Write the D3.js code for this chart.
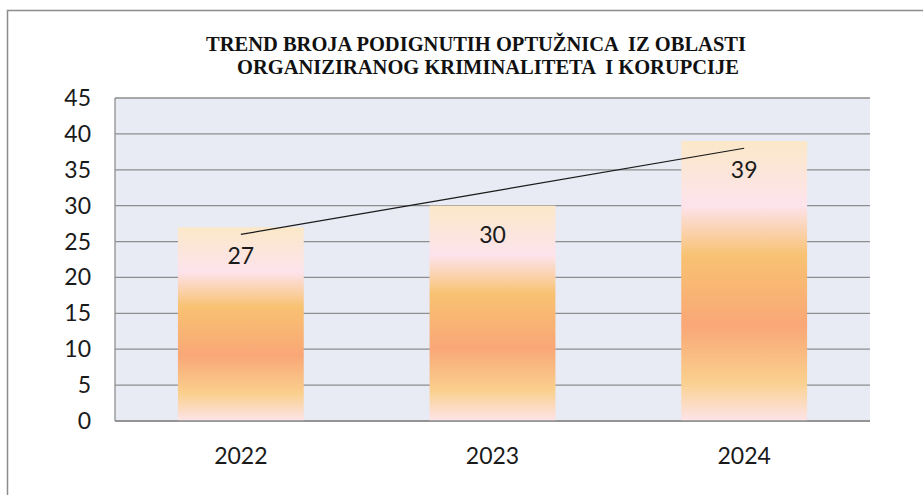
<!DOCTYPE html>
<html>
<head>
<meta charset="utf-8">
<script src="https://cdn.jsdelivr.net/npm/d3@7"></script>
<style>
  body { margin: 0; background: #fff; }
</style>
</head>
<body>
<div id="chart"></div>
<script>
  const width = 923;
  const height = 495;
  const margin = { top: 98, bottom: 74, left: 115, right: 53 };

  // data
  const years = ['2022', '2023', '2024'];
  const indictments = [27, 30, 39];
  const yTicks = [0, 5, 10, 15, 20, 25, 30, 35, 40, 45];
  const titleLines = ['TREND BROJA PODIGNUTIH OPTUŽNICA  IZ OBLASTI', 'ORGANIZIRANOG KRIMINALITETA  I KORUPCIJE'];

  const data = years.map((y, i) => ({ year: y, value: indictments[i] }));

  const svg = d3.select('#chart')
    .append('svg')
    .attr('width', width)
    .attr('height', height);

  // bar gradient
  const grad = svg.append('defs').append('linearGradient')
    .attr('id', 'barFill')
    .attr('x1', 0).attr('y1', 0).attr('x2', 0).attr('y2', 1);
  [[0, '#fbe8c8'], [0.23, '#fde3ec'], [0.41, '#f8c272'], [0.66, '#f9a776'], [0.86, '#fad08e'], [1, '#fde4ea']]
    .forEach(([o, c]) => grad.append('stop').attr('offset', o).attr('stop-color', c));

  // outer frame
  svg.append('rect')
    .attr('x', 7.5).attr('y', 10.5)
    .attr('width', 940).attr('height', 520)
    .attr('fill', 'none')
    .attr('stroke', '#8c8c8c')
    .attr('stroke-width', 1.5);

  const x = d3.scaleBand()
    .domain(years)
    .range([margin.left, width - margin.right])
    .paddingInner(0.5)
    .paddingOuter(0.25);

  const y = d3.scaleLinear()
    .domain([0, 45])
    .range([height - margin.bottom, margin.top]);

  // plot background
  svg.append('rect')
    .attr('x', margin.left)
    .attr('y', margin.top)
    .attr('width', width - margin.left - margin.right)
    .attr('height', y(0) - y(45))
    .attr('fill', '#e8eaf4');

  // grid lines
  svg.append('g')
    .selectAll('line')
    .data(yTicks)
    .join('line')
    .attr('x1', margin.left)
    .attr('x2', width - margin.right)
    .attr('y1', d => y(d))
    .attr('y2', d => y(d))
    .attr('stroke', '#8e8e8e')
    .attr('stroke-width', 1.3);

  // left axis line
  svg.append('line')
    .attr('x1', margin.left).attr('x2', margin.left)
    .attr('y1', y(45)).attr('y2', y(0))
    .attr('stroke', '#8e8e8e')
    .attr('stroke-width', 1.3);

  // bars
  svg.append('g')
    .selectAll('rect')
    .data(data)
    .join('rect')
    .attr('x', d => x(d.year))
    .attr('y', d => y(d.value))
    .attr('width', x.bandwidth())
    .attr('height', d => y(0) - y(d.value))
    .attr('fill', 'url(#barFill)');

  // baseline over bars
  svg.append('line')
    .attr('x1', margin.left).attr('x2', width - margin.right)
    .attr('y1', y(0)).attr('y2', y(0))
    .attr('stroke', '#8e8e8e')
    .attr('stroke-width', 1.5);

  // linear trend line (least squares)
  const xs = data.map((d, i) => i + 1);
  const mx = d3.mean(xs);
  const my = d3.mean(indictments);
  const slope = d3.sum(xs, (v, i) => (v - mx) * (indictments[i] - my)) / d3.sum(xs, v => (v - mx) ** 2);
  const trend = v => my + slope * (v - mx);

  svg.append('path')
    .datum(data)
    .attr('fill', 'none')
    .attr('stroke', '#1a1a1a')
    .attr('stroke-width', 1.2)
    .attr('d', d3.line()
      .x(d => x(d.year) + x.bandwidth() / 2)
      .y((d, i) => y(trend(i + 1))));

  const numFont = 'Lato, sans-serif';

  // bar labels
  svg.append('g')
    .selectAll('text')
    .data(data)
    .join('text')
    .attr('x', d => x(d.year) + x.bandwidth() / 2)
    .attr('y', d => y(d.value) + 29)
    .attr('dy', '0.35em')
    .attr('text-anchor', 'middle')
    .style('font-family', numFont)
    .style('font-size', '23px')
    .attr('fill', '#1a1a1a')
    .text(d => d.value);

  // y tick labels
  svg.append('g')
    .selectAll('text')
    .data(yTicks)
    .join('text')
    .attr('x', margin.left - 24)
    .attr('y', d => y(d))
    .attr('dy', '0.35em')
    .attr('text-anchor', 'end')
    .style('font-family', numFont)
    .style('font-size', '23px')
    .attr('fill', '#1a1a1a')
    .text(d => d);

  // x tick labels
  svg.append('g')
    .selectAll('text')
    .data(years)
    .join('text')
    .attr('x', d => x(d) + x.bandwidth() / 2)
    .attr('y', y(0) + 35)
    .attr('dy', '0.35em')
    .attr('text-anchor', 'middle')
    .style('font-family', numFont)
    .style('font-size', '23px')
    .attr('fill', '#1a1a1a')
    .text(d => d);

  // title
  svg.append('g')
    .selectAll('text')
    .data(titleLines)
    .join('text')
    .attr('x', (d, i) => i === 0 ? 476 : 488)
    .attr('y', (d, i) => 51 + i * 23)
    .attr('text-anchor', 'middle')
    .style('font-family', '"Liberation Serif", "Times New Roman", serif')
    .style('font-weight', 'bold')
    .style('font-size', '20.5px')
    .style('white-space', 'pre')
    .attr('fill', '#111')
    .text(d => d);
</script>
</body>
</html>
